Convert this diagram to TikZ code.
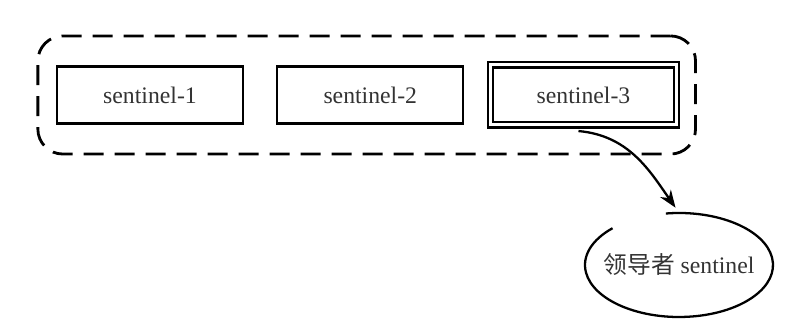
\documentclass[tikz,border=0pt]{standalone}
\usepackage{fontspec}
\setmainfont{Liberation Serif}
\newfontfamily\cjk{Noto Sans CJK SC}
\usetikzlibrary{positioning,fit,arrows.meta,shapes.geometric}

\begin{document}
\begin{tikzpicture}[
  x=0.2mm, y=-0.2mm,
  font=\fontsize{13.5}{16}\selectfont, >={Stealth[length=3.5mm,width=2.6mm]},
  box/.style={rectangle, draw, line width=1.3pt, minimum width=37.2mm, minimum height=11.4mm, inner sep=0pt, text=black!80},
  boxlead/.style={box, double, line width=1.2pt, double distance=0.6mm, minimum height=12mm},
  groupbox/.style={draw, line width=1.6pt, dash pattern=on 4mm off 2.2mm, rounded corners=5mm, inner xsep=3.6mm, inner ysep=5.6mm},
  leader/.style={ellipse, minimum width=37.6mm, minimum height=20.8mm, inner sep=0pt, text=black!80}
]
\useasboundingbox (0,0) rectangle (800,330);

% sentinels
\node[box] (s1) at (150,95) {sentinel-1};
\node[box, right=6.4mm of s1] (s2) {sentinel-2};
\node[boxlead, right=5mm of s2] (s3) {sentinel-3};

% dashed group
\node[groupbox, fit=(s1)(s3)] (group) {};

% elected leader
\node[leader] (lead) at (679,265) {{\cjk 领导者} sentinel};
\draw[line width=1.3pt] ([shift={(lead.center)}] 98:18.8mm and 10.4mm) arc[start angle=98, end angle=-225, x radius=18.8mm, y radius=10.4mm];

\draw[->, line width=1.3pt, shorten >=1.2mm] ([xshift=-1mm, yshift=-1mm]s3.south) to[out=-5, in=125] (lead.north);
\end{tikzpicture}
\end{document}
